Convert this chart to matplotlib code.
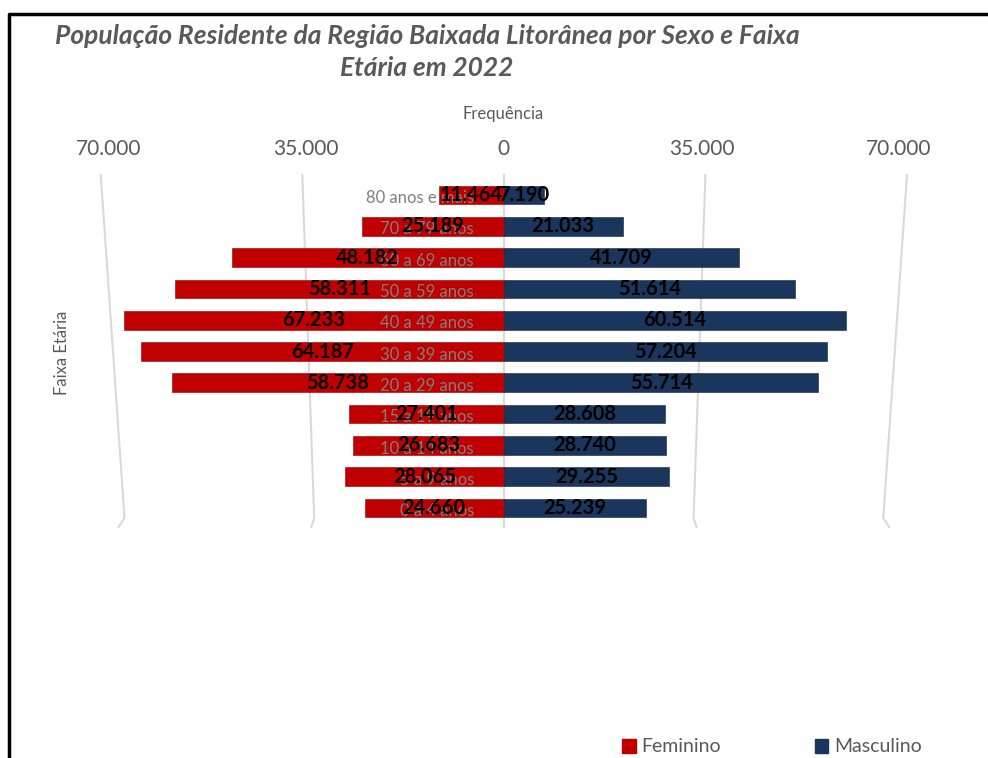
import matplotlib.pyplot as plt
from matplotlib.lines import Line2D
from matplotlib.patches import Patch

# Faixas etárias, de baixo (0 a 4) para cima (80+)
faixas = ['0 a 4 anos', '5 a 9 anos', '10 a 14 anos', '15 a 19 anos',
          '20 a 29 anos', '30 a 39 anos', '40 a 49 anos', '50 a 59 anos',
          '60 a 69 anos', '70 a 79 anos', '80 anos e mais']
feminino = [24660, 28065, 26683, 27401, 58738, 64187, 67233, 58311,
            48182, 25189, 11464]
masculino = [25239, 29255, 28740, 28608, 55714, 57204, 60514, 51614,
             41709, 21033, 7190]
ticks = [-70000, -35000, 0, 35000, 70000]
tick_labels = ['70.000', '35.000', '0', '35.000', '70.000']

cor_fem = '#C00000'
cor_mas = '#1B365D'
cinza = '#595959'
body_font = ['Lato', 'DejaVu Sans']


def fmt(v):
    return '{:,}'.format(v).replace(',', '.')


fig = plt.figure(figsize=(9.88, 7.58), dpi=100)
ax = fig.add_axes([0.110, 0.3092, 0.800, 0.4541])

y = list(range(len(faixas)))
ax.barh(y, [-v for v in feminino], height=0.6, color=cor_fem,
        edgecolor='#8B0000', linewidth=0.4, zorder=2)
ax.barh(y, masculino, height=0.6, color=cor_mas,
        edgecolor='#10243F', linewidth=0.4, zorder=2)

ax.set_xlim(-70000, 70000)
ax.set_ylim(-0.5, 10.5)

# category labels (grey, behind the value labels)
for i, f in enumerate(faixas):
    ax.text(-5300, i - 0.1, f, ha='right', va='center', fontsize=12,
            color='#7F7F7F', family=body_font, zorder=3)

# value labels
for i in y:
    ax.text(-feminino[i] / 2, i, fmt(feminino[i]), ha='center', va='center',
            fontsize=14.5, fontweight='bold', color='black',
            family=body_font, zorder=4)
    ax.text(masculino[i] / 2, i, fmt(masculino[i]), ha='center', va='center',
            fontsize=14.5, fontweight='bold', color='black',
            family=body_font, zorder=4)

# slanted gridlines (3D look)
for t in ticks:
    ax.plot([t * 1.02, t * 0.96, t * 0.975], [10.64, -0.32, -0.61],
            color='#D9D9D9', lw=1.5, clip_on=False, zorder=1)

ax.set_xticks(ticks)
ax.set_xticklabels(tick_labels)
ax.xaxis.tick_top()
ax.tick_params(axis='x', length=0, pad=15, labelsize=15, labelcolor=cinza)
for lab in ax.get_xticklabels():
    lab.set_family(body_font)
ax.set_yticks([])
for s in ax.spines.values():
    s.set_visible(False)

fig.text(503 / 988, 1 - 114 / 758, 'Frequência', ha='center', va='center',
         fontsize=12, color=cinza, family=body_font)
fig.text(62 / 988, 1 - 353 / 758, 'Faixa Etária', ha='center', va='center',
         rotation=90, fontsize=12, color=cinza, family=body_font)

fig.text(427 / 988, 1 - 36 / 758,
         'População Residente da Região Baixada Litorânea por Sexo e Faixa',
         ha='center', va='center', fontsize=19, fontweight='bold',
         style='italic', color=cinza, family=body_font)
fig.text(427 / 988, 1 - 68 / 758, 'Etária em 2022', ha='center',
         va='center', fontsize=19, fontweight='bold', style='italic',
         color=cinza, family=body_font)

handles = [Patch(color=cor_fem), Patch(color=cor_mas)]
fig.legend(handles, ['Feminino', 'Masculino'], loc='center',
           bbox_to_anchor=(772 / 988, 1 - 747 / 758), ncol=2, frameon=False,
           handlelength=0.7, handleheight=0.7, handletextpad=0.3,
           columnspacing=4.8, prop={'family': body_font, 'size': 14},
           labelcolor=cinza)

# outer border (top and left only visible)
fig.add_artist(Line2D([9 / 988, 9 / 988, 1], [0, 1 - 14 / 758, 1 - 14 / 758],
                      transform=fig.transFigure, color='black', lw=2.5))

fig.savefig('out.png', dpi=100)
